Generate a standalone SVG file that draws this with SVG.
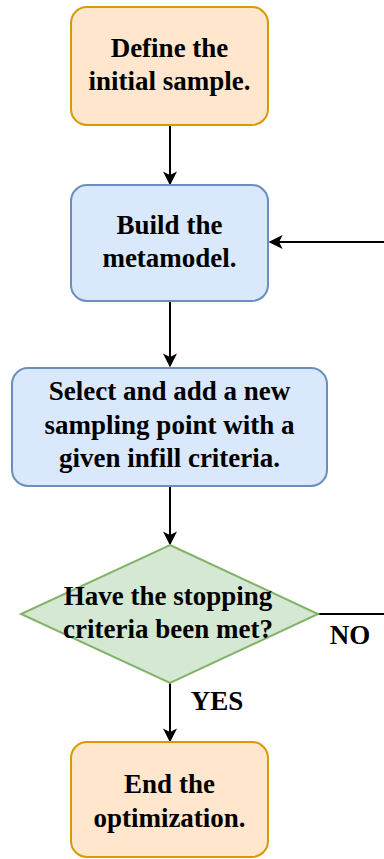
<svg xmlns="http://www.w3.org/2000/svg" width="384" height="859" viewBox="0 0 384 859">
<style>
.t{font-family:"Liberation Serif","Times New Roman",serif;font-weight:bold;font-size:27px;fill:#000;text-anchor:middle}
.o{fill:#ffe6cc;stroke:#d79b00;stroke-width:2}
.b{fill:#dae8fc;stroke:#6c8ebf;stroke-width:2}
.g{fill:#d5e8d4;stroke:#82b366;stroke-width:2}
.c{fill:none;stroke:#000;stroke-width:2}
</style>
<defs>
<marker id="ah" viewBox="0 0 10 10" refX="9" refY="5" markerWidth="14" markerHeight="14" markerUnits="userSpaceOnUse" orient="auto">
<path d="M0,0 L10,5 L0,10 L2.5,5 Z" fill="#000"/>
</marker>
</defs>
<g id="connectors">
<path class="c" d="M170,126 V184" marker-end="url(#ah)"/>
<path class="c" d="M170,301 V366" marker-end="url(#ah)"/>
<path class="c" d="M170,487 V544" marker-end="url(#ah)"/>
<path class="c" d="M170,683 V741" marker-end="url(#ah)"/>
<path class="c" d="M384,242 H270" marker-end="url(#ah)"/>
<path class="c" d="M318,614 H384"/>
<text class="t" x="350" y="644">NO</text>
<text class="t" x="217" y="710">YES</text>
</g>
<g id="n1">
<rect class="o" x="71" y="7" width="197" height="118" rx="16"/>
<text class="t" x="169.5" y="57">Define the</text>
<text class="t" x="169.5" y="90">initial sample.</text>
</g>
<g id="n2">
<rect class="b" x="71" y="185" width="197" height="116" rx="16"/>
<text class="t" x="169.5" y="234">Build the</text>
<text class="t" x="169.5" y="267">metamodel.</text>
</g>
<g id="n3">
<rect class="b" x="12" y="368" width="315" height="118" rx="16"/>
<text class="t" x="169.5" y="400">Select and add a new</text>
<text class="t" x="169.5" y="434">sampling point with a</text>
<text class="t" x="169.5" y="467">given infill criteria.</text>
</g>
<g id="n4">
<path class="g" d="M170,545 L318,614 L170,683 L21,614 Z"/>
<text class="t" x="168" y="605">Have the stopping</text>
<text class="t" x="168" y="638">criteria been met?</text>
</g>
<g id="n5">
<rect class="o" x="71" y="742" width="197" height="115" rx="16"/>
<text class="t" x="169.5" y="793">End the</text>
<text class="t" x="169.5" y="827">optimization.</text>
</g>
</svg>
